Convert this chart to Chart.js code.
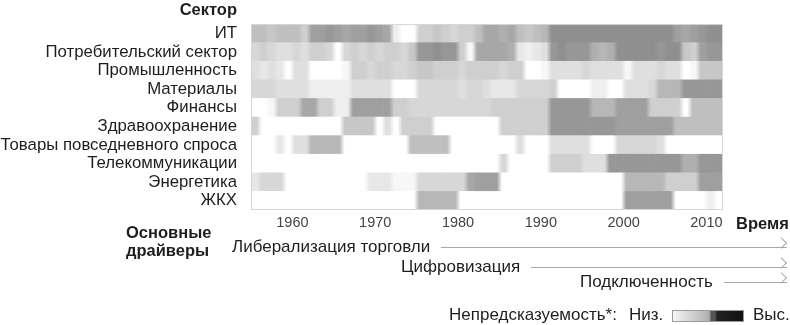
<!DOCTYPE html>
<html>
<head>
<meta charset="utf-8">
<script src="https://cdn.jsdelivr.net/npm/chart.js@4.4.1/dist/chart.umd.min.js"></script>
<style>
  body { margin: 0; background: #fff; font-family: "Liberation Sans", Arial, sans-serif; color: #1e1e1e; }
  #wrap { position: relative; width: 790px; height: 325px; }
  #wrap canvas { position: absolute; left: 0; top: 0; }
  .lbl { position: absolute; font-size: 17px; line-height: 18px; white-space: nowrap; }
  .b { font-weight: bold; font-size: 16.5px; }
  .driver { position: absolute; right: 3px; display: flex; align-items: center; font-size: 17px; line-height: 18px; }
  .driver .line { flex: 1; height: 1px; background: #a8a8a8; margin-left: 11px; position: relative; }
  .driver .line::after { content: ""; position: absolute; right: 0; top: -4px; width: 7px; height: 7px;
    border-top: 1px solid #a8a8a8; border-right: 1px solid #a8a8a8; transform: rotate(45deg); transform-origin: 100% 0; }
  #scale { position: absolute; left: 672px; top: 310px; width: 70px; height: 10px; border: 1px solid #9a9a9a;
    background: linear-gradient(to right, #f6f6f6 0%, #b2b2b2 50%, #9c9c9c 53%, #555 54%, #555 60%, #222 63%, #111 100%); }
</style>
</head>
<body>
<div id="wrap">
  <canvas id="heat"></canvas>
  <div class="lbl b" style="right:553px; top:0px;">Сектор</div>
  <div class="lbl b" style="left:736px; top:214px;">Время</div>
  <div class="lbl b" style="left:126px; top:223px;">Основные</div>
  <div class="lbl b" style="left:126px; top:241px;">драйверы</div>
  <div id="drivers"></div>
  <div class="lbl" style="left:449px; top:306px;">Непредсказуемость*:</div>
  <div class="lbl" style="left:629px; top:306px;">Низ.</div>
  <div id="scale"></div>
  <div class="lbl" style="left:753px; top:306px;">Выс.</div>
</div>
<script>
const sectors = ['ИТ', 'Потребительский сектор', 'Промышленность', 'Материалы', 'Финансы',
    'Здравоохранение', 'Товары повседневного спроса', 'Телекоммуникации', 'Энергетика', 'ЖКХ'];

const years = [1955, 1956, 1957, 1958, 1959, 1960, 1961, 1962, 1963, 1964,
    1965, 1966, 1967, 1968, 1969, 1970, 1971, 1972, 1973, 1974,
    1975, 1976, 1977, 1978, 1979, 1980, 1981, 1982, 1983, 1984,
    1985, 1986, 1987, 1988, 1989, 1990, 1991, 1992, 1993, 1994,
    1995, 1996, 1997, 1998, 1999, 2000, 2001, 2002, 2003, 2004,
    2005, 2006, 2007, 2008, 2009, 2010, 2011];

const tickYears = [1960, 1970, 1980, 1990, 2000, 2010];

// непредсказуемость по годам, 0 = низкая, 10 = высокая
const it = [4,4,3.5,4,4,4,3, 6,6,6.5,6,5.5,6,6,6.5,6,5.5, 1,0,0, 3,3,3.5,3,2.5,3,3,4,
    5.5,5.5,5,5.5, 4,3.5,4,4.5, 7,7,7,7,7,7,7,7,7,7,7,7,7,7,7, 6,5.5,6,6.5, 7,7];
const consumer = [2.5,3,2.5,2, 2,2.5,2, 3,3,2.5, 0, 2.5,3,2.5,3,2.5,3, 3,2.5,3.5, 6.5,6.5,7,6.5,6.5,
    3,0.5, 5.5,5.5,5.5,5.5,5, 1.5,1,1.5,2, 6.5,7,6.5,6.5,6.5, 5,4.5,5, 7,7,7,7,7,6.5,7,7, 3.5,3, 6,6.5,6.5];
const industry = [2,1.5,2,1.5, 0, 2,2, 0,0,0,0,0.5, 3,3,2.5,3,3, 2.5,2.5,3, 3.5,3.5,
    3,3,3,2.5,3,3,3,3,2.5,3,3, 0,0,0.5, 2,2,2,2,2.5,2,2,2,2, 0.5, 2,2,2,2.5,2,2, 0,0.5, 3.5,3.5,3.5];
const materials = [2.5,2.5,2.5, 2,2,2,2, 1,1,1,1,1, 2,2,2,2,2, 0,0,0, 2.5,2.5,2.5,2.5,2.5,2,2.5,2.5,2,
    1.5,1.5,1.5, 2.5,2.5,2.5,2.5,3, 0,0,0,0,1,1,0,0, 2,2,2,2.5, 4.5,4.5,4.5, 6.5,6.5,6.5,6.5,6.5];
const finance = [0,0,0.5, 3,3,3, 5.5,5.5, 3,3, 1,1, 6,6,6,6,6, 3,3,2.5,2.5,2.5,2.5,2.5,2.5,2.5,2.5,2.5,
    2.5,3,3,3,3,3,3,3, 6.5,6.5,6.5,6.5,6.5, 4.5,4.5,4.5, 6,6,6,6, 3,3,3,3, 0, 4,4,4,4];
const health = [3, 0,0,0,0,0,0,0,0,0,0, 3.5,3.5,3.5,3.5, 0, 2, 0, 3,3,3,3, 0,0,0,0,0,0,0,0,
    3,3,3,3,3,3, 6.5,6.5,6.5,6.5,6.5,6.5,6.5,6.5,6,6,6,6,6,6,6, 4,4,4,4,4,4];
const staples = [0,0,0, 1.5, 0, 2,2, 4.5,4.5,4.5,4.5, 0,0,0,0,0,0,0,0, 4,4,4,4,4, 0,0,0,0,0,0,0,0,
    2, 0,0,0, 2,2,2,2,2, 0,0,0, 2.5,2.5,2.5,2.5,2.5,2, 0,0,0,0,0,0,0];
const telecom = [0,0,0,0,0,0,0,0,0,0, 0,0,0,0,0,0,0,0,0,0, 0,0,0,0,0,0,0,0,0,0,
    2.5, 0,0,0,0,0, 3,3,3,3, 2,2,2, 6.5,6.5,6.5,6.5,6.5,6.5,6.5,6.5,6.5, 5,5, 6.5,6.5,6.5];
const energy = [1.5, 2.5,2.5,2.5, 0,0,0,0,0,0,0,0,0,0, 1.5,1.5,1.5, 0.5,0.5,0.5, 2.5,2.5,2.5,2.5,2.5,2.5,
    5.5,6,6,6, 0,0,0,0,0,0,0,0,0,0,0,0,0,0,0, 4.5,4.5,4.5,4.5,4.5, 3,3,3,3, 6,6,6];
const utilities = [0,0,0,0,0,0,0,0,0,0, 0,0,0,0,0,0,0,0,0,0, 4.5,4.5,4.5,4.5,4.5,
    0,0,0,0,0,0,0,0,0,0, 0,0,0,0,0,0,0,0,0,0, 6,6,6,6,6,6, 0,0,0,0, 1, 0];

const drivers = ['Либерализация торговли', 'Цифровизация', 'Подключенность'];

const rows = [it, consumer, industry, materials, finance, health, staples, telecom, energy, utilities];

// подписи драйверов со стрелками
const driverPos = [{ left: 232, top: 238 }, { left: 401, top: 258 }, { left: 580, top: 273 }];
drivers.forEach((name, i) => {
    const d = document.createElement('div');
    d.className = 'driver';
    d.style.left = driverPos[i].left + 'px';
    d.style.top = driverPos[i].top + 'px';
    d.innerHTML = `<span>${name}</span><div class="line"></div>`;
    document.getElementById('drivers').appendChild(d);
});

function gray(v) {
    const g = Math.round(255 - v * 16);
    return `rgb(${g},${g},${g})`;
}

// ячейка с мягкими краями: переход к соседним годам
function cellColor(ctx) {
    const row = rows[ctx.dataIndex];
    const j = ctx.datasetIndex;
    const cur = row[j];
    const area = ctx.chart.chartArea;
    if (!area) return gray(cur);
    const prev = j > 0 ? row[j - 1] : cur;
    const next = j < row.length - 1 ? row[j + 1] : cur;
    const xs = ctx.chart.scales.x;
    const x0 = xs.getPixelForValue(years[j]);
    const x1 = xs.getPixelForValue(years[j] + 1);
    const g = ctx.chart.ctx.createLinearGradient(x0, 0, x1, 0);
    g.addColorStop(0, gray((prev + cur) / 2));
    g.addColorStop(0.3, gray(cur));
    g.addColorStop(0.7, gray(cur));
    g.addColorStop(1, gray((cur + next) / 2));
    return g;
}

// одна серия на год, каждая ячейка - плавающий столбец [год, год+1]
const datasets = years.map(year => ({
    data: sectors.map(() => [year, year + 1]),
    backgroundColor: cellColor,
    borderWidth: 0,
    barPercentage: 1,
    categoryPercentage: 1,
    grouped: false
}));

const frame = {
    id: 'frame',
    afterDatasetsDraw(chart) {
        const { ctx, chartArea: a } = chart;
        ctx.save();
        ctx.strokeStyle = '#d6d6d6';
        ctx.lineWidth = 1;
        ctx.strokeRect(a.left + 0.5, a.top + 0.5, a.width - 1, a.height - 1);
        ctx.restore();
    }
};

Chart.defaults.font.family = '"Liberation Sans", Arial, sans-serif';

new Chart(document.getElementById('heat'), {
    type: 'bar',
    data: { labels: sectors, datasets },
    options: {
        indexAxis: 'y',
        responsive: true,
        maintainAspectRatio: false,
        animation: false,
        layout: { padding: { left: 0, top: 17, right: 67, bottom: 95 } },
        plugins: { legend: { display: false }, tooltip: { enabled: false } },
        scales: {
            x: {
                type: 'linear',
                min: 1955,
                max: 2012,
                grid: { display: false, drawTicks: false },
                border: { display: false },
                afterBuildTicks: axis => { axis.ticks = tickYears.map(v => ({ value: v })); },
                afterFit: axis => { axis.height = 20; },
                ticks: { color: '#444', font: { size: 14.5 }, padding: 4, callback: v => String(v) }
            },
            y: {
                grid: { display: false, drawTicks: false },
                border: { display: false },
                afterFit: axis => { axis.width = 251; },
                ticks: { color: '#1e1e1e', font: { size: 16.8 }, padding: 14, autoSkip: false }
            }
        }
    },
    plugins: [frame]
});
</script>
</body>
</html>
